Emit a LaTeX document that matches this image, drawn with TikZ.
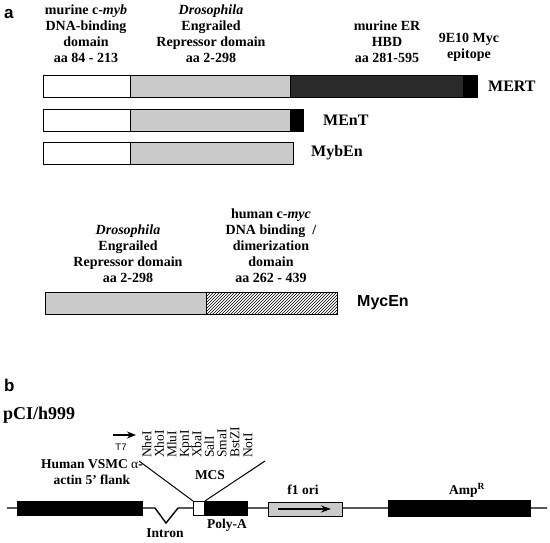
\documentclass[tikz,border=0pt]{standalone}
\usepackage{fontspec}
\setmainfont{Liberation Serif}
\newfontfamily\arialf{Liberation Sans}
\usetikzlibrary{patterns,arrows.meta}
\definecolor{lgray}{HTML}{CACACA}
\definecolor{dgray}{HTML}{2A2A2A}
\begin{document}
\begin{tikzpicture}[x=1pt,y=-1pt,
  lab/.style={font=\fontsize{14}{16}\selectfont\bfseries, align=center, inner sep=0pt},
  blab/.style={font=\fontsize{13.5}{16}\selectfont\bfseries, align=center, inner sep=0pt},
  pname/.style={font=\fontsize{16}{18}\selectfont\bfseries, anchor=west, inner sep=0pt},
  seg/.style={draw=black, line width=0.9pt},
  enz/.style={font=\fontsize{13.5}{13.5}\selectfont, rotate=90, anchor=mid west, inner sep=0pt},
  panel/.style={font=\arialf\fontsize{17}{17}\selectfont\bfseries, anchor=base west, inner sep=0pt}
]
\useasboundingbox (0,0) rectangle (550,542);

% ---------- panel a ----------
\node[panel] (pa) at (4,18) {a};

\node[lab, anchor=south] (lmyb) at (86,63) {murine c-\textit{myb}\\DNA-binding\\domain\\aa 84 - 213};
\node[lab, anchor=south] (lenr) at (211,63) {\textit{Drosophila}\\Engrailed\\Repressor domain\\aa 2-298};
\node[lab, anchor=south] (ler) at (387,63) {murine ER\\HBD\\aa 281-595};
\node[lab, anchor=north] (lmyc) at (469,33) {9E10 Myc\\epitope};

% MERT
\draw[seg, fill=white] (43,75) rectangle (130,97);
\draw[seg, fill=lgray] (130,75) rectangle (290,97);
\draw[seg, fill=dgray] (290,75) rectangle (463,97);
\draw[seg, fill=black] (463,75) rectangle (477,97);
\node[pname] (mert) at (488,86) {MERT};

% MEnT
\draw[seg, fill=white] (43,109) rectangle (130,131);
\draw[seg, fill=lgray] (130,109) rectangle (290,131);
\draw[seg, fill=black] (290,109) rectangle (303,131);
\node[pname] (ment) at (323,120) {MEnT};

% MybEn
\draw[seg, fill=white] (43,142) rectangle (130,164);
\draw[seg, fill=lgray] (130,142) rectangle (293,164);
\node[pname] (myben) at (311,153) {MybEn};

% MycEn
\node[lab, anchor=south] (lenr2) at (128,283) {\textit{Drosophila}\\Engrailed\\Repressor domain\\aa 2-298};
\node[lab, anchor=south] (lmyc2) at (271,283) {human c-\textit{myc}\\DNA binding~ /\\dimerization\\domain\\aa 262 - 439};
\draw[seg, fill=lgray] (45,292) rectangle (206,314);
\draw[seg, pattern=north east lines] (206,292) rectangle (337,314);
\node[pname, font=\arialf\fontsize{16}{18}\selectfont\bfseries] (mycen) at (357,303) {MycEn};

% ---------- panel b ----------
\node[panel] (pb) at (4,391) {b};
\node[font=\fontsize{18}{18}\selectfont\bfseries, anchor=base west, inner sep=0pt] (pci) at (3,419) {pCI/h999};

% backbone
\coordinate (bbL) at (7,508);
\coordinate (bbR) at (547,508);
\draw[line width=1.4pt] (bbL) -- (155,508) -- (166,523) -- (178,508) -- (bbR);

% boxes
\draw[seg, fill=black] (17,501) rectangle (142,515);
\node[draw=black, line width=0.9pt, fill=white, minimum width=11pt, minimum height=14pt, inner sep=0pt, anchor=north west] (mcs) at (193,501) {};
\draw[seg, fill=black] (204,501) rectangle (247,515);
\draw[seg, fill=lgray] (268,502) rectangle (342,516);
\coordinate (f1a) at (278,509);
\coordinate (f1b) at (331,509);
\draw[line width=1.8pt, -{Stealth[length=10pt,width=7pt]}] (f1a) -- (f1b);
\draw[seg, fill=black] (388,500) rectangle (530,516);

% MCS fan lines
\coordinate (fanL) at (139,461);
\coordinate (fanR) at (265,461);
\draw[line width=1pt] (mcs.north west) -- (fanL);
\draw[line width=1pt] (mcs.north east) -- (fanR);

% T7
\coordinate (t7a) at (113,435);
\coordinate (t7b) at (136,435);
\draw[line width=1.5pt, -{Stealth[length=9pt,width=7pt]}] (t7a) -- (t7b);
\node[font=\arialf\fontsize{9.5}{9.5}\selectfont, inner sep=0pt] (t7) at (121,447) {T7};

% enzymes
\node[enz] (e1) at (149,458) {NheI};
\node[enz] (e2) at (161.5,458) {XhoI};
\node[enz] (e3) at (174,458) {MluI};
\node[enz] (e4) at (186.5,458) {KpnI};
\node[enz] (e5) at (199,458) {XbaI};
\node[enz] (e6) at (211.5,458) {SalI};
\node[enz] (e7) at (224,458) {SmaI};
\node[enz] (e8) at (237,458) {BstZI};
\node[enz] (e9) at (250,458) {NotI};

% labels
\node[blab] (vsmc) at (92,472) {Human VSMC {\mdseries α}-\\actin 5' flank};
\node[blab] (lmcs) at (210,475) {MCS};
\node[blab] (intron) at (165,533) {Intron};
\node[blab] (polya) at (227,525) {Poly-A};
\node[blab] (f1) at (303,490) {f1 ori};
\node[blab] (amp) at (467,490) {Amp\textsuperscript{R}};
\end{tikzpicture}
\end{document}
